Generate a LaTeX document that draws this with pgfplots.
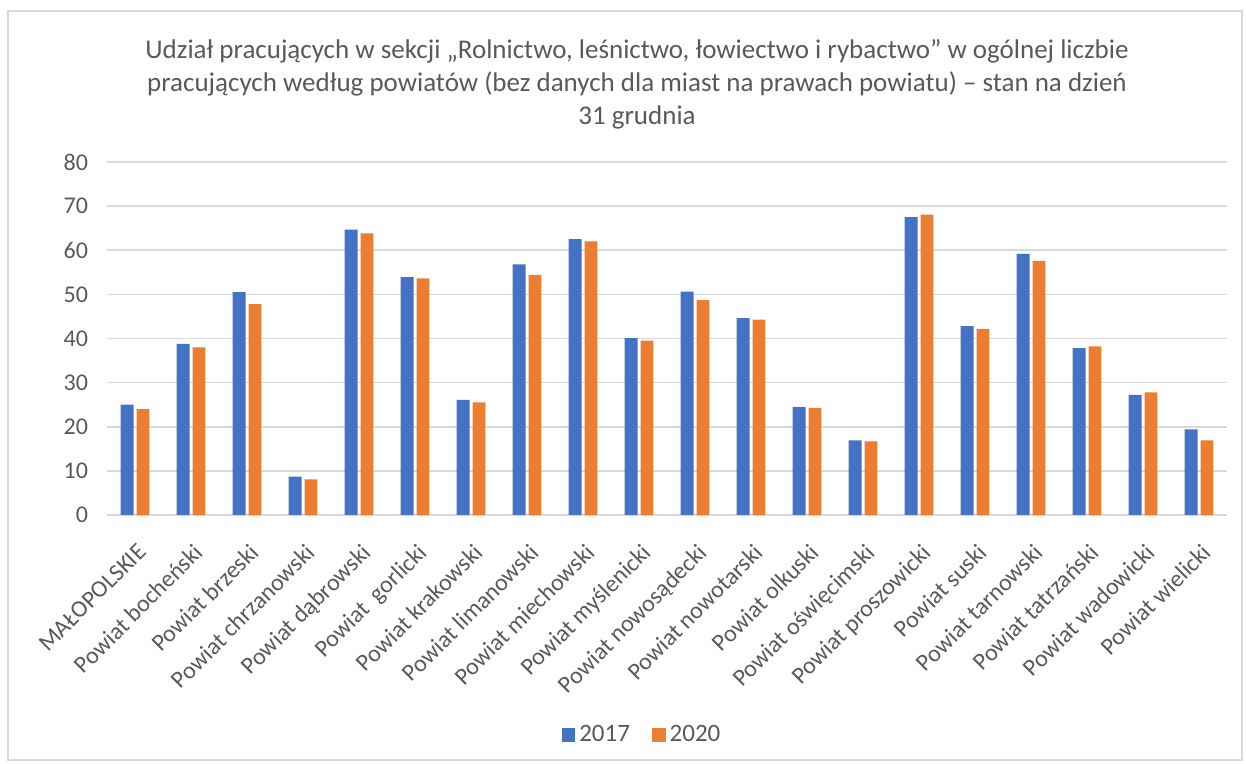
\documentclass[border=0pt]{standalone}
\usepackage{pgfplots}
\pgfplotsset{compat=1.18}
\usepackage{fontspec}
\setmainfont{Carlito}
\definecolor{cblue}{HTML}{4472C4}
\definecolor{corange}{HTML}{ED7D31}
\definecolor{cgrid}{HTML}{D9D9D9}
\definecolor{ctext}{HTML}{595959}
\begin{document}
\begin{tikzpicture}[x=0.5pt,y=0.5pt]
% page and chart frame (1 unit = 1 px of the reference)
\path (0,0) rectangle (1246,764);
\draw[cgrid, line width=0.8pt] (8,4) rectangle (1242,753);
\node[font=\fontsize{13.5}{16.5}\selectfont, text=ctext, align=center] at (637,680)
  {Udział pracujących w sekcji „Rolnictwo, leśnictwo, łowiectwo i rybactwo" w ogólnej liczbie\\
   pracujących według powiatów (bez danych dla miast na prawach powiatu) – stan na dzień\\
   31 grudnia};
\begin{axis}[
    at={(53.5pt,124.5pt)}, anchor=south west,
    scale only axis, width=560pt, height=176.5pt,
    ybar, bar width=6.4pt,
    ymin=0, ymax=80, ytick={0,10,...,80},
    xmin=-0.5, xmax=19.5,
    xtick={0,...,19},
    xticklabels={MAŁOPOLSKIE,Powiat bocheński,Powiat brzeski,Powiat chrzanowski,Powiat dąbrowski,Powiat\ \ gorlicki,Powiat krakowski,Powiat limanowski,Powiat miechowski,Powiat myślenicki,Powiat nowosądecki,Powiat nowotarski,Powiat olkuski,Powiat oświęcimski,Powiat proszowicki,Powiat suski,Powiat tarnowski,Powiat tatrzański,Powiat wadowicki,Powiat wielicki},
    x tick label style={rotate=45, anchor=north east, inner sep=1pt, xshift=-8pt, yshift=-9pt},
    tick label style={font=\fontsize{12}{14}\selectfont, text=ctext},
    /pgf/number format/assume math mode=true,
    y tick label style={xshift=-6pt},
    major tick length=0pt,
    ymajorgrids, grid style={cgrid, line width=0.8pt},
    axis x line*=bottom, axis y line*=left,
    x axis line style={cgrid, line width=0.8pt},
    y axis line style={draw=none},
    legend style={at={(0.5,0)}, anchor=north, xshift=-12pt, yshift=-101pt, draw=none,
      legend columns=2, font=\fontsize{12.5}{14}\selectfont, text=ctext,
      /tikz/every even column/.append style={column sep=9pt}},
    legend image code/.code={\fill[#1] (0cm,-0.12cm) rectangle (0.24cm,0.12cm);},
]
\addplot[fill=cblue, draw=none, bar shift=-3.95pt] coordinates {
(0,25.0) (1,38.8) (2,50.5) (3,8.7) (4,64.7) (5,53.9) (6,26.1) (7,56.8) (8,62.5) (9,40.1)
(10,50.6) (11,44.6) (12,24.5) (13,16.9) (14,67.5) (15,42.8) (16,59.2) (17,37.8) (18,27.2) (19,19.4)};
\addplot[fill=corange, draw=none, bar shift=3.95pt] coordinates {
(0,24.0) (1,38.0) (2,47.8) (3,8.1) (4,63.8) (5,53.6) (6,25.5) (7,54.4) (8,62.0) (9,39.5)
(10,48.7) (11,44.3) (12,24.3) (13,16.7) (14,68.1) (15,42.2) (16,57.6) (17,38.2) (18,27.8) (19,16.9)};
\legend{2017,2020}
\end{axis}
\end{tikzpicture}
\end{document}
